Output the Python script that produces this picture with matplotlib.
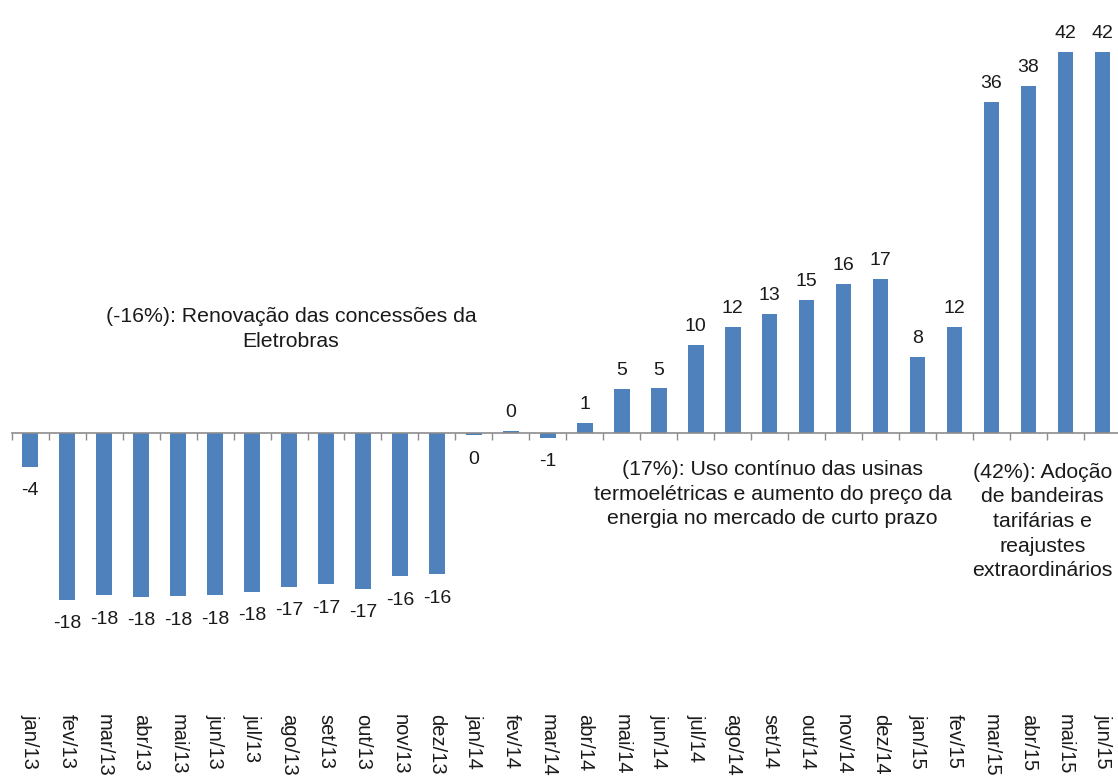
import numpy as np
import matplotlib
matplotlib.use("Agg")
import matplotlib.pyplot as plt

# monthly change (%) of the electricity tariff
months = ["jan/13", "fev/13", "mar/13", "abr/13", "mai/13", "jun/13",
          "jul/13", "ago/13", "set/13", "out/13", "nov/13", "dez/13",
          "jan/14", "fev/14", "mar/14", "abr/14", "mai/14", "jun/14",
          "jul/14", "ago/14", "set/14", "out/14", "nov/14", "dez/14",
          "jan/15", "fev/15", "mar/15", "abr/15", "mai/15", "jun/15"]
change = [-3.8, -18.4, -17.9, -18.1, -18.0, -17.9,
          -17.5, -17.0, -16.7, -17.2, -15.8, -15.6,
          -0.3, 0.2, -0.6, 1.05, 4.8, 4.85,
          9.6, 11.6, 13.0, 14.6, 16.3, 16.9,
          8.3, 11.6, 36.3, 38.1, 41.8, 41.8]

notes = [
    (7.05, 13.8, "(-16%): Renovação das concessões da\nEletrobras"),
    (20.08, -3.0, "(17%): Uso contínuo das usinas\ntermoelétricas e aumento do preço da\nenergia no mercado de curto prazo"),
    (27.37, -3.3, "(42%): Adoção\nde bandeiras\ntarifárias e\nreajustes\nextraordinários"),
]

plt.rcParams['font.family'] = ['Liberation Sans', 'DejaVu Sans']
BLUE = '#4F81BD'
TXT = '#1a1a1a'

fig = plt.figure(figsize=(11.18, 7.76), dpi=100)
x0, x1 = 11.7 / 1118, 1121.0 / 1118
ax = fig.add_axes([x0, 0.0, x1 - x0, 1.0])

x = np.arange(len(months))
ax.bar(x, change, width=0.42, color=BLUE, zorder=2)

for xi, v in zip(x, change):
    lab = str(int(round(v)))
    if v >= 0:
        ax.annotate(lab, (xi, v), xytext=(0, 7), textcoords='offset points',
                    ha='center', va='bottom', fontsize=14, color=TXT)
    else:
        ax.annotate(lab, (xi, v), xytext=(0, -11), textcoords='offset points',
                    ha='center', va='top', fontsize=14, color=TXT)

for nx, ny, txt in notes:
    ax.text(nx, ny, txt, ha='center', va='top', fontsize=15.3, color=TXT,
            linespacing=1.38)

px = 9.1  # pixels per unit
ax.set_xlim(-0.5, len(months) - 0.5)
ax.set_ylim(-(776 - 432.5) / px, 432.5 / px)

for s in ['top', 'right', 'left']:
    ax.spines[s].set_visible(False)
ax.spines['bottom'].set_position(('data', 0))
ax.spines['bottom'].set_color('#8c8c8c')
ax.spines['bottom'].set_linewidth(1.2)
ax.set_yticks([])

ax.set_xticks(x)
ax.set_xticklabels(months, rotation=270, fontsize=14.5, color=TXT)
ax.set_xticks(np.arange(-0.5, len(months), 1), minor=True)
ax.tick_params(axis='x', which='major', length=0, pad=203)
ax.tick_params(axis='x', which='minor', length=5, color='#8c8c8c', width=1)

fig.savefig('out.png', dpi=100)
